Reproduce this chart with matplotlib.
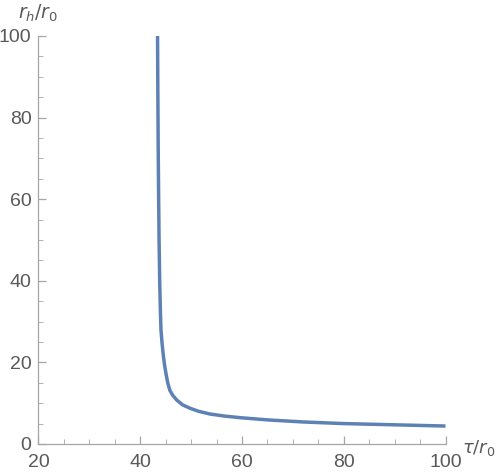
import matplotlib
matplotlib.use("Agg")
import matplotlib.pyplot as plt
from matplotlib.ticker import MultipleLocator

# values
tau = [43.40, 43.45, 43.52, 43.60, 43.70, 43.82, 43.95, 44.07, 44.30, 44.55,
       44.80, 45.05, 45.40, 45.80, 46.40, 47.15, 48.30, 49.80, 51.50, 53.70,
       56.50, 59.60, 65.10, 72.0, 80.0, 90.0, 100.0]
rh = [100.0, 88.0, 74.0, 62.0, 50.0, 40.0, 33.0, 28.0, 24.5, 21.5,
      19.2, 17.3, 15.0, 13.2, 11.9, 10.8, 9.6, 8.75, 8.0, 7.35,
      6.85, 6.45, 5.9, 5.4, 5.0, 4.7, 4.4]

xticks = [20, 40, 60, 80, 100]
yticks = [0, 20, 40, 60, 80, 100]

plt.rcParams['font.family'] = ['Liberation Sans', 'DejaVu Sans']

fig = plt.figure(figsize=(4.98, 4.74), dpi=100)
ax = fig.add_axes([0.0773, 0.0633, 0.8173, 0.861])

ax.plot(tau, rh, color='#5E81B5', linewidth=2.5, solid_capstyle='butt',
        solid_joinstyle='round')

ax.set_xlim(20, 100)
ax.set_ylim(0, 100)
ax.set_xticks(xticks)
ax.set_yticks(yticks)
ax.xaxis.set_minor_locator(MultipleLocator(5))
ax.yaxis.set_minor_locator(MultipleLocator(5))

for s in ['top', 'right']:
    ax.spines[s].set_visible(False)
for s in ['left', 'bottom']:
    ax.spines[s].set_color('#a6a6a6')
    ax.spines[s].set_linewidth(0.9)

ax.tick_params(which='both', direction='in', color='#a6a6a6', labelcolor='#595959',
               labelsize=14)
ax.tick_params(which='major', length=6, width=0.9)
ax.tick_params(which='minor', length=3.5, width=0.6)
ax.tick_params(axis='x', which='major', pad=7)
ax.tick_params(axis='y', which='major', pad=5)

ax.text(0.0, 1.03, r'$r_h/r_0$', transform=ax.transAxes, ha='center', va='bottom',
        fontsize=13.5, color='#595959', math_fontfamily='dejavusans')
ax.text(1.04, -0.01, r'$\tau/r_0$', transform=ax.transAxes, ha='left', va='center',
        fontsize=13, color='#595959', math_fontfamily='dejavusans')

fig.savefig('out.png', dpi=100)
